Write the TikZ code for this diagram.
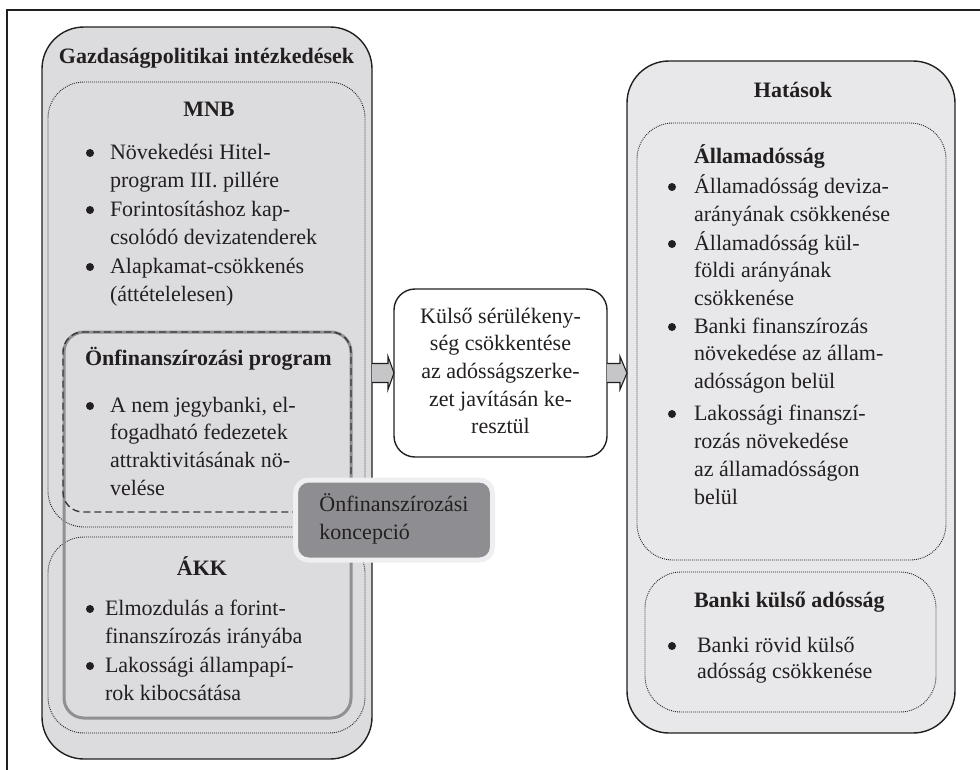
\documentclass[tikz,border=0pt]{standalone}
\usepackage{fontspec}
\setmainfont{Liberation Serif}
\usetikzlibrary{calc}
\definecolor{txt}{HTML}{231F20}
\definecolor{lgray}{HTML}{DCDCDE}
\definecolor{rgray}{HTML}{E8E8EA}
\definecolor{kgray}{HTML}{8E8E92}
\definecolor{kline}{HTML}{909094}
\definecolor{kborder}{HTML}{EFEFF1}
\definecolor{agray}{HTML}{C6C6C8}
\definecolor{dline}{HTML}{3A3A3C}
\newcommand\bodyfont{\fontsize{22}{28.3}\selectfont}
\newcommand\midfont{\fontsize{22}{27.6}\selectfont}
\newcommand\ls[1]{\begin{tabular}[t]{@{}l@{}}#1\end{tabular}}
\begin{document}
\begin{tikzpicture}[x=1pt,y=-1pt,
  box/.style={draw=txt, inner sep=0pt, outer sep=0pt, line width=1.4pt},
  bigbox/.style={box, rounded corners=42pt},
  dotbox/.style={draw=txt, inner sep=0pt, outer sep=0pt, line width=0.9pt,
    dash pattern=on 0.9pt off 1.1pt, rounded corners=36pt},
  txtnode/.style={anchor=base west, inner sep=0pt, outer sep=0pt,
    font=\bodyfont, text=txt},
  head/.style={inner sep=0pt, outer sep=0pt, font=\bodyfont\bfseries, text=txt},
  bul/.style={circle, fill=txt, inner sep=0pt, minimum size=8pt},
  barrow/.style={draw=txt, fill=agray, line width=1.1pt, line join=miter}
]
\useasboundingbox (0,0) rectangle (980,769);
\fill[white] (0,0) rectangle (980,769);
% outer frame (extends beyond the page)
\draw[line width=1.3pt, txt] (7,800) -- (7,10) -- (1000,10);

% ---------- left side ----------
\node[bigbox, fill=lgray, minimum width=330pt, minimum height=732pt] (gp) at (207,393) {};
\node[dotbox, minimum width=317pt, minimum height=445pt] (mnb) at (206.5,304.5) {};
\node[dotbox, minimum width=317pt, minimum height=196pt] (akk) at (206.5,635) {};
\node[draw=kline, line width=3pt, rounded corners=20pt, inner sep=0pt, outer sep=0pt,
      minimum width=287pt, minimum height=386pt] (kbox) at (207.5,525) {};
\node[draw=dline, line width=1.4pt, dash pattern=on 7pt off 4pt, rounded corners=20pt,
      inner sep=0pt, outer sep=0pt, minimum width=288pt, minimum height=180pt] (prog) at (207,422) {};

\node[head, anchor=base] (gpt) at (206.5,63) {Gazdaságpolitikai intézkedések};
\node[head, anchor=base] (mnbt) at (209,116) {MNB};
\node[bul] (b1) at (90,153) {};
\node[txtnode] (t1) at (110,159) {\ls{Növekedési Hitel-\\program III. pillére}};
\node[bul] (b2) at (90,210) {};
\node[txtnode] (t2) at (110,216) {\ls{Forintosításhoz kap-\\csolódó devizatenderek}};
\node[bul] (b3) at (90,267) {};
\node[txtnode] (t3) at (110,273) {\ls{Alapkamat-csökkenés\\(áttételelesen)}};

\node[head, anchor=base west] (progt) at (85,365) {Önfinanszírozási program};
\node[bul] (b4) at (90,406) {};
\node[txtnode, font=\fontsize{22}{27.8}\selectfont] (t4) at (110,412) {\ls{A nem jegybanki, el-\\fogadható fedezetek\\attraktivitásának nö-\\velése}};

\node[head, anchor=base] (akkt) at (202,575) {ÁKK};
\node[bul] (b5) at (90,609) {};
\node[txtnode] (t5) at (105,615) {\ls{Elmozdulás a forint-\\finanszírozás irányába}};
\node[bul] (b6) at (90,666) {};
\node[txtnode] (t6) at (105,672) {\ls{Lakossági állampapí-\\rok kibocsátása}};

% concept box
\node[fill=kgray, draw=kborder, line width=5pt, rounded corners=13pt, inner sep=0pt, outer sep=0pt,
      minimum width=197pt, minimum height=80pt, align=left, font=\bodyfont, text=txt] (konc)
      at (394,520) {\strut Önfinanszírozási\\koncepció\strut};

% ---------- middle ----------
\node[box, fill=white, rounded corners=21pt, minimum width=213pt, minimum height=168pt,
      align=center, font=\midfont, text=txt] (mid) at (500.5,373)
      {\strut Külső sérülékeny-\\ség csökkentése\\az adósságszerke-\\zet javításán ke-\\resztül\strut};

% ---------- right side ----------
\node[bigbox, fill=rgray, minimum width=328pt, minimum height=672pt] (hat) at (791,397) {};
\node[dotbox, minimum width=309pt, minimum height=437pt] (allam) at (791.5,341.5) {};
\node[dotbox, minimum width=291pt, minimum height=140pt] (banki) at (790.5,642) {};

\node[head, anchor=base] (hatt) at (793,97) {Hatások};
\node[head, anchor=base west] (allamt) at (694,163) {Államadósság};
\node[bul] (rb1) at (672,187) {};
\node[txtnode, font=\fontsize{22}{28}\selectfont] (r1) at (694,193) {\ls{Államadósság deviza-\\arányának csökkenése}};
\node[bul] (rb2) at (672,244) {};
\node[txtnode, font=\fontsize{22}{27.6}\selectfont] (r2) at (694,250) {\ls{Államadósság kül-\\földi arányának\\csökkenése}};
\node[bul] (rb3) at (672,327) {};
\node[txtnode, font=\fontsize{22}{27.6}\selectfont] (r3) at (694,333) {\ls{Banki finanszírozás\\növekedése az állam-\\adósságon belül}};
\node[bul] (rb4) at (672,414) {};
\node[txtnode, font=\fontsize{22}{28}\selectfont] (r4) at (694,420) {\ls{Lakossági finanszí-\\rozás növekedése\\az államadósságon\\belül}};

\node[head, anchor=base west] (bankit) at (694,607) {Banki külső adósság};
\node[bul] (rb5) at (672,646) {};
\node[txtnode, font=\fontsize{22}{26.5}\selectfont] (r5) at (697,652) {\ls{Banki rövid külső\\adósság csökkenése}};

% ---------- block arrows ----------
\coordinate (a1) at (gp.east |- mid.west);
\draw[barrow] ($(a1)+(0,-9.5)$) -- ($(a1)+(16,-9.5)$) -- ($(a1)+(16,-16.5)$) -- (mid.west)
  -- ($(a1)+(16,16.5)$) -- ($(a1)+(16,9.5)$) -- ($(a1)+(0,9.5)$);
\coordinate (a2) at (hat.west |- mid.east);
\draw[barrow] ($(mid.east)+(0,-9.5)$) -- ($(a2)+(-7,-9.5)$) -- ($(a2)+(-7,-16.5)$) -- (a2)
  -- ($(a2)+(-7,16.5)$) -- ($(a2)+(-7,9.5)$) -- ($(mid.east)+(0,9.5)$);
\end{tikzpicture}
\end{document}
